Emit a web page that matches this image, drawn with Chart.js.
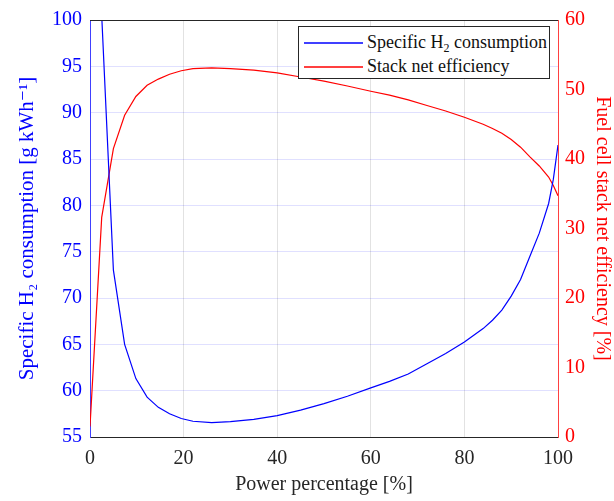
<!DOCTYPE html>
<html>
<head>
<meta charset="utf-8">
<script src="https://cdn.jsdelivr.net/npm/chart.js@4"></script>
<style>
  html, body { margin: 0; padding: 0; background: #fff; }
  #wrap { position: relative; width: 614px; height: 501px; }
  #legend {
    position: absolute; left: 298px; top: 26px; width: 252px; height: 53px;
    border: 1px solid #262626; background: #fff; box-sizing: border-box;
    font-family: "Liberation Serif", "DejaVu Serif", serif; font-size: 18px; color: #111;
  }
  .item { position: absolute; left: 5px; height: 20px; width: 240px; }
  .item svg { position: absolute; left: 0; top: 9px; }
  .item .tx { position: absolute; left: 63px; top: 0; white-space: nowrap; line-height: 20px; }
  sub { font-size: 12px; vertical-align: -4px; line-height: 0; }
</style>
</head>
<body>
<div id="wrap">
  <canvas id="c" width="614" height="501"></canvas>
  <div id="legend">
    <div class="item" style="top:5px"><svg width="59" height="4"><line x1="0" y1="2" x2="59" y2="2" stroke="#0000ff" stroke-width="1.3"/></svg><div class="tx">Specific H<sub>2</sub> consumption</div></div>
    <div class="item" style="top:29px"><svg width="59" height="4"><line x1="0" y1="2" x2="59" y2="2" stroke="#ff0000" stroke-width="1.3"/></svg><div class="tx">Stack net efficiency</div></div>
  </div>
</div>
<script>
// Power percentage [%]
const powerPct = [0, 2.5, 5, 7.4, 9.8, 12.2, 14.6, 17, 19.5, 22, 26, 30, 35, 40, 45, 50, 55, 60, 64, 68, 72, 76, 80, 84, 86, 88, 90, 92, 94, 96, 98, 99, 100];
// Specific H2 consumption [g kWh^-1]
const specificH2 = [2000, 100.5, 73.0, 65.0, 61.3, 59.3, 58.2, 57.5, 57.0, 56.7, 56.55, 56.65, 56.9, 57.3, 57.9, 58.6, 59.4, 60.3, 61.0, 61.8, 62.9, 64.0, 65.25, 66.7, 67.6, 68.7, 70.2, 72.0, 74.5, 77.0, 80.2, 82.8, 86.5];
// Stack net efficiency [%]
const stackEff = [1.5, 31.6, 41.5, 46.3, 49.0, 50.6, 51.5, 52.2, 52.7, 53.0, 53.1, 53.0, 52.8, 52.4, 51.8, 51.2, 50.5, 49.75, 49.2, 48.5, 47.7, 46.9, 46.0, 45.0, 44.4, 43.7, 42.8, 41.7, 40.3, 39.0, 37.4, 36.2, 34.7];
const xTicks = [0, 20, 40, 60, 80, 100];
const yLeftTicks = [55, 60, 65, 70, 75, 80, 85, 90, 95, 100];
const yRightTicks = [0, 10, 20, 30, 40, 50, 60];

const serif = "'Liberation Serif', 'DejaVu Serif', serif";

const boxTop = {
  id: 'boxTop',
  afterDraw(chart) {
    const a = chart.chartArea, ctx = chart.ctx;
    ctx.save();
    ctx.strokeStyle = '#262626';
    ctx.lineWidth = 1;
    ctx.beginPath();
    ctx.moveTo(a.left, a.top + 0.5);
    ctx.lineTo(a.right, a.top + 0.5);
    ctx.stroke();
    ctx.restore();
  }
};

new Chart(document.getElementById('c'), {
  type: 'line',
  data: {
    datasets: [
      {
        label: 'Specific H₂ consumption',
        data: powerPct.map((p, i) => ({ x: p, y: specificH2[i] })),
        borderColor: '#0000ff', borderWidth: 1.2, pointRadius: 0, tension: 0,
        yAxisID: 'y'
      },
      {
        label: 'Stack net efficiency',
        data: powerPct.map((p, i) => ({ x: p, y: stackEff[i] })),
        borderColor: '#ff0000', borderWidth: 1.2, pointRadius: 0, tension: 0,
        yAxisID: 'y1'
      }
    ]
  },
  options: {
    responsive: false, animation: false,
    layout: { padding: { top: 12, left: 0, right: 0, bottom: 0 } },
    plugins: { legend: { display: false }, tooltip: { enabled: false } },
    scales: {
      x: {
        type: 'linear', min: 0, max: 100,
        afterBuildTicks: s => { s.ticks = xTicks.map(v => ({ value: v })); },
        afterFit: s => { s.height = 64; },
        grid: { color: '#e2e2e2', drawTicks: false },
        border: { color: '#262626' },
        ticks: { color: '#262626', padding: 10, font: { family: serif, size: 20 } },
        title: { display: true, text: 'Power percentage [%]', color: '#262626', padding: { top: 0 }, font: { family: serif, size: 20 } }
      },
      y: {
        position: 'left', min: 55, max: 100,
        afterBuildTicks: s => { s.ticks = yLeftTicks.map(v => ({ value: v })); },
        afterFit: s => { s.width = 90; },
        grid: { color: 'rgba(0,0,255,0.12)', drawTicks: false },
        border: { color: '#4040ff' },
        ticks: { color: '#0000ff', padding: 8, font: { family: serif, size: 20 } },
        title: { display: true, text: 'Specific H₂ consumption [g kWh⁻¹]', color: '#0000ff', padding: { bottom: 0, top: 15 }, font: { family: serif, size: 21 } }
      },
      y1: {
        position: 'right', min: 0, max: 60,
        afterBuildTicks: s => { s.ticks = yRightTicks.map(v => ({ value: v })); },
        afterFit: s => { s.width = 56; },
        grid: { drawOnChartArea: false, drawTicks: false },
        border: { color: '#ff4040' },
        ticks: { color: '#ff0000', padding: 7, font: { family: serif, size: 20 } },
        title: { display: true, text: 'Fuel cell stack net efficiency [%]', color: '#ff0000', padding: { top: 0, bottom: 0 }, font: { family: serif, size: 20 } }
      }
    }
  },
  plugins: [boxTop]
});
</script>
</body>
</html>
